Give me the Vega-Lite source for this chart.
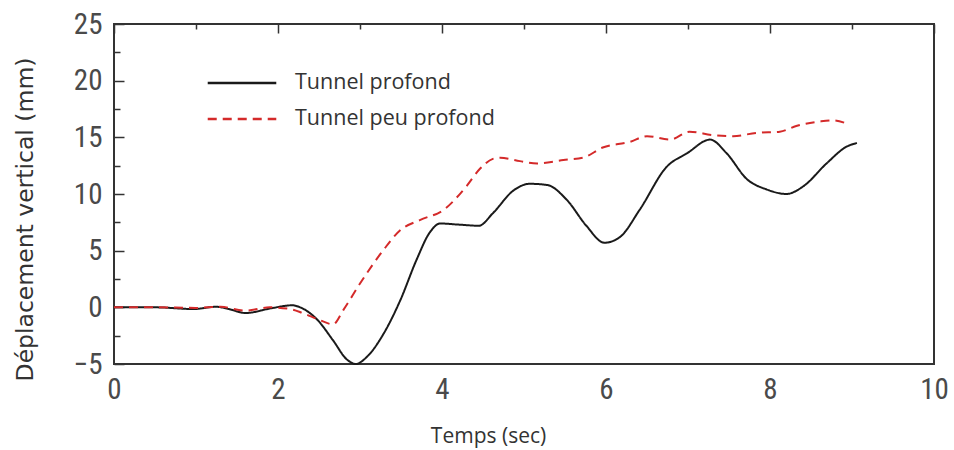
{
  "$schema": "https://vega.github.io/schema/vega-lite/v6.json",
  "width": 820,
  "height": 340,
  "autosize": {"type": "none"},
  "padding": {"left": 114, "top": 24, "right": 20, "bottom": 86},
  "background": "white",
  "config": {
    "view": {"stroke": "#333333", "strokeWidth": 2},
    "axis": {
      "domain": false,
      "ticks": false,
      "grid": true,
      "gridColor": "#333333",
      "gridOpacity": 1,
      "gridWidth": 1.5,
      "labelFont": "Liberation Sans Narrow, Roboto Condensed, Liberation Sans",
      "labelFontSize": 29,
      "labelColor": "#4a4a4a",
      "titleColor": "#333333",
      "titleFontWeight": "normal"
    },
    "legend": {
      "title": null,
      "orient": "none",
      "padding": 0,
      "symbolType": "stroke",
      "symbolSize": 4700,
      "symbolStrokeWidth": 2.5,
      "labelFont": "Open Sans",
      "labelFontSize": 21.5,
      "labelColor": "#333333",
      "labelOffset": 17,
      "labelLimit": 400
    }
  },
  "data": {
    "values": [
      {"t": 0, "d": 0, "serie": "Tunnel profond"},
      {"t": 0.5, "d": 0.0, "serie": "Tunnel profond"},
      {"t": 0.97, "d": -0.15, "serie": "Tunnel profond"},
      {"t": 1.25, "d": 0.05, "serie": "Tunnel profond"},
      {"t": 1.4, "d": -0.15, "serie": "Tunnel profond"},
      {"t": 1.6, "d": -0.5, "serie": "Tunnel profond"},
      {"t": 1.94, "d": -0.05, "serie": "Tunnel profond"},
      {"t": 2.17, "d": 0.18, "serie": "Tunnel profond"},
      {"t": 2.3, "d": -0.1, "serie": "Tunnel profond"},
      {"t": 2.48, "d": -1.1, "serie": "Tunnel profond"},
      {"t": 2.67, "d": -2.9, "serie": "Tunnel profond"},
      {"t": 2.84, "d": -4.6, "serie": "Tunnel profond"},
      {"t": 2.95, "d": -5.0, "serie": "Tunnel profond"},
      {"t": 3.08, "d": -4.4, "serie": "Tunnel profond"},
      {"t": 3.29, "d": -2.3, "serie": "Tunnel profond"},
      {"t": 3.49, "d": 0.6, "serie": "Tunnel profond"},
      {"t": 3.69, "d": 4.2, "serie": "Tunnel profond"},
      {"t": 3.85, "d": 6.6, "serie": "Tunnel profond"},
      {"t": 3.98, "d": 7.4, "serie": "Tunnel profond"},
      {"t": 4.2, "d": 7.3, "serie": "Tunnel profond"},
      {"t": 4.45, "d": 7.2, "serie": "Tunnel profond"},
      {"t": 4.62, "d": 8.3, "serie": "Tunnel profond"},
      {"t": 4.87, "d": 10.3, "serie": "Tunnel profond"},
      {"t": 5.07, "d": 10.9, "serie": "Tunnel profond"},
      {"t": 5.28, "d": 10.8, "serie": "Tunnel profond"},
      {"t": 5.52, "d": 9.5, "serie": "Tunnel profond"},
      {"t": 5.76, "d": 7.2, "serie": "Tunnel profond"},
      {"t": 5.98, "d": 5.7, "serie": "Tunnel profond"},
      {"t": 6.17, "d": 6.2, "serie": "Tunnel profond"},
      {"t": 6.41, "d": 8.6, "serie": "Tunnel profond"},
      {"t": 6.74, "d": 12.4, "serie": "Tunnel profond"},
      {"t": 6.99, "d": 13.6, "serie": "Tunnel profond"},
      {"t": 7.27, "d": 14.8, "serie": "Tunnel profond"},
      {"t": 7.47, "d": 13.6, "serie": "Tunnel profond"},
      {"t": 7.72, "d": 11.3, "serie": "Tunnel profond"},
      {"t": 7.96, "d": 10.4, "serie": "Tunnel profond"},
      {"t": 8.2, "d": 10.0, "serie": "Tunnel profond"},
      {"t": 8.41, "d": 10.7, "serie": "Tunnel profond"},
      {"t": 8.69, "d": 12.7, "serie": "Tunnel profond"},
      {"t": 8.94, "d": 14.2, "serie": "Tunnel profond"},
      {"t": 9.06, "d": 14.5, "serie": "Tunnel profond"},
      {"t": 0, "d": 0, "serie": "Tunnel peu profond"},
      {"t": 0.5, "d": 0, "serie": "Tunnel peu profond"},
      {"t": 1.0, "d": -0.05, "serie": "Tunnel peu profond"},
      {"t": 1.3, "d": 0.05, "serie": "Tunnel peu profond"},
      {"t": 1.6, "d": -0.3, "serie": "Tunnel peu profond"},
      {"t": 1.9, "d": 0.0, "serie": "Tunnel peu profond"},
      {"t": 2.15, "d": -0.15, "serie": "Tunnel peu profond"},
      {"t": 2.3, "d": -0.5, "serie": "Tunnel peu profond"},
      {"t": 2.5, "d": -1.1, "serie": "Tunnel peu profond"},
      {"t": 2.67, "d": -1.5, "serie": "Tunnel peu profond"},
      {"t": 2.8, "d": -0.2, "serie": "Tunnel peu profond"},
      {"t": 3.0, "d": 2.1, "serie": "Tunnel peu profond"},
      {"t": 3.29, "d": 5.1, "serie": "Tunnel peu profond"},
      {"t": 3.49, "d": 6.8, "serie": "Tunnel peu profond"},
      {"t": 3.73, "d": 7.7, "serie": "Tunnel peu profond"},
      {"t": 4.02, "d": 8.6, "serie": "Tunnel peu profond"},
      {"t": 4.3, "d": 10.7, "serie": "Tunnel peu profond"},
      {"t": 4.46, "d": 12.2, "serie": "Tunnel peu profond"},
      {"t": 4.62, "d": 13.1, "serie": "Tunnel peu profond"},
      {"t": 4.71, "d": 13.2, "serie": "Tunnel peu profond"},
      {"t": 4.95, "d": 12.9, "serie": "Tunnel peu profond"},
      {"t": 5.16, "d": 12.7, "serie": "Tunnel peu profond"},
      {"t": 5.48, "d": 13.0, "serie": "Tunnel peu profond"},
      {"t": 5.72, "d": 13.2, "serie": "Tunnel peu profond"},
      {"t": 5.96, "d": 14.1, "serie": "Tunnel peu profond"},
      {"t": 6.29, "d": 14.6, "serie": "Tunnel peu profond"},
      {"t": 6.5, "d": 15.1, "serie": "Tunnel peu profond"},
      {"t": 6.78, "d": 14.8, "serie": "Tunnel peu profond"},
      {"t": 7.02, "d": 15.5, "serie": "Tunnel peu profond"},
      {"t": 7.3, "d": 15.2, "serie": "Tunnel peu profond"},
      {"t": 7.55, "d": 15.1, "serie": "Tunnel peu profond"},
      {"t": 7.84, "d": 15.4, "serie": "Tunnel peu profond"},
      {"t": 8.12, "d": 15.5, "serie": "Tunnel peu profond"},
      {"t": 8.32, "d": 16.0, "serie": "Tunnel peu profond"},
      {"t": 8.61, "d": 16.4, "serie": "Tunnel peu profond"},
      {"t": 8.77, "d": 16.5, "serie": "Tunnel peu profond"},
      {"t": 8.94, "d": 16.2, "serie": "Tunnel peu profond"}
    ]
  },
  "layer": [
    {
      "mark": {"type": "line", "interpolate": "monotone", "strokeWidth": 2},
      "encoding": {
        "x": {
          "field": "t", "type": "quantitative",
          "scale": {"domain": [0, 10], "nice": false, "zero": false},
          "axis": {
            "orient": "bottom",
            "values": [0, 1, 2, 3, 4, 5, 6, 7, 8, 9, 10],
            "labelExpr": "datum.value % 2 === 0 ? datum.label : ''",
            "gridDash": {"condition": {"test": "datum.value % 2 !== 0", "value": [5, 2000]}, "value": [9, 2000]},
            "labelPadding": 11,
            "labelFlush": false,
            "title": "Temps (sec)",
            "titleFont": "Open Sans",
            "titleFontSize": 21,
            "titleX": 374,
            "titleY": 78,
            "titleBaseline": "alphabetic"
          }
        },
        "y": {
          "field": "d", "type": "quantitative",
          "scale": {"domain": [-5, 25], "nice": false, "zero": false},
          "axis": {
            "orient": "left",
            "values": [-5, -2.5, 0, 2.5, 5, 7.5, 10, 12.5, 15, 17.5, 20, 22.5, 25],
            "labelExpr": "datum.value % 5 === 0 ? datum.label : ''",
            "gridDash": {"condition": {"test": "datum.value % 5 !== 0", "value": [6, 2000]}, "value": [10, 2000]},
            "labelPadding": 12,
            "labelFlush": false,
            "title": "Déplacement vertical (mm)",
            "titleFont": "DejaVu Sans",
            "titleFontSize": 23.5,
            "titleAngle": 270,
            "titleX": -89,
            "titleY": 195,
            "titleBaseline": "middle",
            "titleAlign": "center"
          }
        },
        "color": {
          "field": "serie", "type": "nominal",
          "scale": {"domain": ["Tunnel profond", "Tunnel peu profond"], "range": ["#1a1a1a", "#d42a2a"]},
          "legend": {
            "values": ["Tunnel profond"],
            "legendX": 92,
            "legendY": 23
          }
        },
        "strokeDash": {
          "field": "serie", "type": "nominal",
          "scale": {"domain": ["Tunnel peu profond", "Tunnel profond"], "range": [[9, 6], [1, 0]]},
          "legend": {
            "values": ["Tunnel peu profond"],
            "legendX": 92,
            "legendY": 59,
            "symbolStrokeColor": "#d42a2a"
          }
        }
      }
    },
    {
      "mark": {"type": "line", "opacity": 0},
      "encoding": {
        "x": {
          "field": "t", "type": "quantitative",
          "axis": {
            "orient": "top",
            "values": [0, 1, 2, 3, 4, 5, 6, 7, 8, 9, 10],
            "gridDash": {"condition": {"test": "datum.value % 2 !== 0", "value": [5, 2000]}, "value": [9, 2000]},
            "labels": false,
            "title": null
          }
        },
        "y": {
          "field": "d", "type": "quantitative",
          "axis": {
            "orient": "right",
            "values": [-5, -2.5, 0, 2.5, 5, 7.5, 10, 12.5, 15, 17.5, 20, 22.5, 25],
            "gridDash": {"condition": {"test": "datum.value % 5 !== 0", "value": [6, 2000]}, "value": [10, 2000]},
            "labels": false,
            "title": null
          }
        },
        "detail": {"field": "serie"}
      }
    }
  ],
  "resolve": {"axis": {"x": "independent", "y": "independent"}}
}
